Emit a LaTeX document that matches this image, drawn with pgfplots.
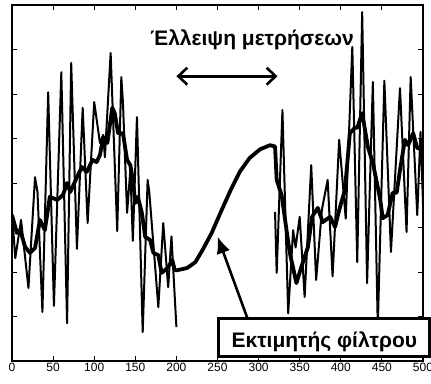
\documentclass[border=0pt]{standalone}
\usepackage{fontspec}
\setmainfont{Liberation Sans}
\usepackage{pgfplots}
\pgfplotsset{compat=1.18}
\usetikzlibrary{arrows.meta}

\begin{document}
\begin{tikzpicture}[x=1pt,y=1pt]
\begin{axis}[
  at={(12pt,22pt)}, anchor=south west,
  scale only axis, width=411pt, height=356pt,
  xmin=0, xmax=500, ymin=-4, ymax=4,
  xtick={0,50,...,500}, ytick={-3,-2,...,3},
  yticklabels={},
  tick align=inside, major tick length=5pt,
  tick style={black, line width=0.9pt},
  axis line style={line width=1.2pt},
  ticklabel style={font=\fontsize{12}{14}\selectfont},
  /pgf/number format/assume math mode=true,
  xticklabel style={yshift=1pt},
  clip mode=individual,
]
% measured signal, first stretch
\addplot[black, line width=2pt, line join=round] table {
0 -0.67
4 -1.69
11 -0.83
20 -2.36
28 0.13
31 -0.20
37 -2.90
44 2.04
51 -2.76
60 2.49
67 -3.15
72 2.70
79 -1.48
86 1.69
92 -0.90
100 1.82
107 0.90
111 1.08
113 0.58
120 2.92
128 -1.08
133 2.38
135 1.80
140 -0.67
144 0.30
147 -1.30
152 1.48
159 -3.35
165 0.07
167 -0.20
178 -2.79
184 -0.90
190 -2.34
194 -1.20
200 -3.24
};
% measured signal, after the gap
\addplot[black, line width=2pt, line join=round] table {
320 -0.65
322 -2.02
329 1.64
336 -2.93
342 -1.06
345 -1.45
350 -0.76
356 -2.56
364 0.40
370 -2.18
377 -0.60
384 0.07
390 -2.10
398 0.97
406 -0.80
414 3.06
420 -1.78
426 3.84
432 -2.25
439 2.27
445 -3.24
453 2.30
461 -1.55
472 2.13
480 -1.10
485 2.38
493 -0.72
497 1.15
500 -0.45
};
% filter estimate
\addplot[black, line width=3.8pt, line join=round] table {
0 -0.72
6 -1.12
10 -1.06
16 -1.44
22 -1.57
28 -1.46
34 -0.83
40 -1.06
46 -0.31
55 -0.38
62 -0.27
67 0.00
71 -0.20
79 0.13
85 0.36
91 0.25
98 0.52
103 0.47
107 0.63
111 1.03
116 0.90
122 1.69
125 1.57
129 1.12
135 1.12
140 0.52
144 0.40
147 0.07
150 -0.45
153 -0.31
158 -0.67
162 -1.21
168 -1.28
172 -1.57
178 -1.62
182 -2.02
186 -1.96
190 -1.89
195 -1.73
198 -1.96
201 -1.96
213 -1.91
223 -1.78
232 -1.50
243 -1.12
255 -0.61
266 -0.16
277 0.25
289 0.56
302 0.76
314 0.85
320 0.82
322 0.07
328 -0.27
334 -1.06
338 -1.57
346 -2.25
352 -1.89
360 -1.44
365 -0.76
372 -0.56
378 -0.88
387 -0.76
393 -0.99
399 -0.54
405 -0.16
408 0.47
411 1.12
417 1.24
420 1.24
426 1.57
433 0.81
439 0.45
444 0.00
448 -0.38
451 -0.79
457 -0.72
463 -0.22
468 -0.22
472 0.29
478 0.97
482 0.85
488 1.12
493 0.79
499 0.74
500 0.45
};
% annotations
\node[anchor=base, font=\fontsize{21}{25}\selectfont\bfseries] at (axis cs:292,3.08) {Έλλειψη μετρήσεων};
\draw[line width=2.6pt, {Straight Barb[length=9pt,width=17pt]}-{Straight Barb[length=9pt,width=17pt]}]
  (axis cs:200,2.4) -- (axis cs:323,2.4);
\draw[line width=2.6pt, -{Latex[length=17pt,width=14pt]}]
  (axis cs:286,-3.02) -- (axis cs:250,-1.2);
\draw[line width=2.8pt, fill=white] (axis cs:251,-3.04) rectangle (axis cs:508,-3.90);
\node[anchor=base, font=\fontsize{21}{25}\selectfont\bfseries] at (axis cs:380,-3.70) {Εκτιμητής φίλτρου};
\end{axis}
\pgfresetboundingbox
\path (0,0) rectangle (431,383);
\end{tikzpicture}
\end{document}
